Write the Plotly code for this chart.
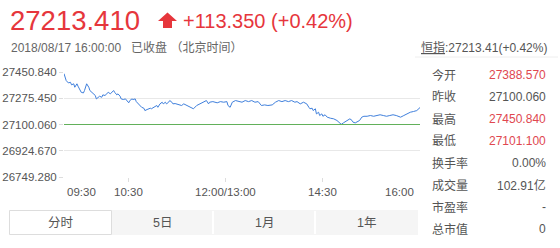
import plotly.graph_objects as go

# ---------------- data ----------------
minutes = [0, 1, 2, 4, 6, 7, 9, 10, 12, 13, 15, 16, 18, 19, 21, 23, 24, 26, 27, 29,
           30, 32, 33, 35, 36, 38, 40, 41, 43, 44, 46, 47, 49, 50, 52, 53, 55, 57, 58, 60,
           61, 63, 64, 66, 67, 69, 70, 72, 74, 75, 77, 78, 80, 81, 83, 84, 86, 87, 89, 91,
           92, 94, 95, 97, 98, 100, 101, 103, 105, 106, 109, 111, 114, 117, 120, 123, 126, 129, 132, 134,
           135, 138, 142, 145, 148, 151, 152, 154, 156, 159, 162, 165, 168, 171, 174, 177, 180, 183, 186, 189,
           193, 196, 199, 202, 205, 208, 211, 214, 216, 219, 222, 225, 227, 228, 230, 231, 233, 234, 236, 237,
           239, 240, 242, 244, 247, 250, 253, 256, 257, 259, 262, 265, 267, 268, 270, 271, 274, 276, 278, 281,
           284, 287, 290, 293, 296, 299, 302, 305, 308, 312, 315, 318, 321, 324, 327, 330]
prices = [27440, 27405, 27394, 27378, 27382, 27365, 27372, 27349, 27372, 27356, 27334, 27315, 27311, 27327, 27372, 27349, 27327, 27315, 27305, 27294,
          27271, 27282, 27289, 27282, 27298, 27294, 27305, 27315, 27305, 27315, 27327, 27315, 27298, 27305, 27289, 27271, 27267, 27271, 27260, 27245,
          27260, 27271, 27267, 27271, 27253, 27238, 27227, 27215, 27209, 27193, 27200, 27205, 27209, 27205, 27215, 27222, 27227, 27215, 27238, 27249,
          27238, 27249, 27238, 27249, 27260, 27249, 27238, 27240, 27236, 27231, 27227, 27238, 27227, 27215, 27205, 27227, 27238, 27245, 27260, 27238,
          27249, 27253, 27245, 27253, 27249, 27253, 27227, 27215, 27249, 27260, 27253, 27249, 27260, 27253, 27260, 27249, 27253, 27227, 27231, 27227,
          27231, 27249, 27260, 27253, 27260, 27253, 27260, 27249, 27253, 27238, 27249, 27238, 27215, 27205, 27209, 27193, 27205, 27171, 27182, 27160,
          27171, 27155, 27165, 27149, 27142, 27138, 27127, 27111, 27101.1, 27111, 27127, 27138, 27127, 27115, 27111, 27115, 27127, 27149, 27155, 27155,
          27160, 27155, 27160, 27165, 27160, 27155, 27160, 27165, 27160, 27149, 27160, 27171, 27182, 27187, 27193, 27213.41]

prev_close = 27100.060
y_ticks = [26749.280, 26924.670, 27100.060, 27275.450, 27450.840]
x_tick_vals = [0, 60, 150, 240, 330]
x_tick_labels = ["09:30", "10:30", "12:00/13:00", "14:30", "16:00"]

last_price = "27213.410"
change_text = "+113.350 (+0.42%)"
date_text = "2018/08/17 16:00:00   已收盘 （北京时间）"
index_text = "<u>恒指</u>:27213.41(+0.42%)"

panel_labels = ["今开", "昨收", "最高", "最低", "换手率", "成交量", "市盈率", "总市值"]
panel_values = ["27388.570", "27100.060", "27450.840", "27101.100", "0.00%", "102.91亿", "-", "0"]
panel_red = [True, False, True, True, False, False, False, False]

tabs = ["分时", "5日", "1月", "1年"]

# ---------------- layout helpers ----------------
W, H = 560, 248
L, R, T, B = 64, 420, 72, 177  # plot area pixels
FONT = "Arial, 'Liberation Sans', 'Noto Sans CJK SC', sans-serif"
RED = "#e6363c"
RED2 = "#e0474f"
GREY = "#555555"


def px(x):
    return (x - L) / (R - L)


def py(y):
    return (B - y) / (B - T)


fig = go.Figure()
fig.add_trace(go.Scatter(x=minutes, y=prices, mode="lines",
                         line=dict(color="#3f7fdc", width=1), hoverinfo="skip"))

fig.update_layout(
    width=W, height=H,
    margin=dict(l=L, r=W - R, t=T, b=H - B, autoexpand=False),
    paper_bgcolor="white", plot_bgcolor="white",
    showlegend=False,
    font=dict(family=FONT, color=GREY),
    xaxis=dict(range=[0, 330], tickvals=x_tick_vals[1:-1], showticklabels=False,
               ticks="outside", ticklen=4, tickcolor="#dddddd", showgrid=False,
               zeroline=False, showline=False, fixedrange=True, automargin=False),
    yaxis=dict(range=[y_ticks[0], y_ticks[-1]], tickvals=y_ticks,
               ticktext=[f"{v:.3f}" for v in y_ticks],
               ticks="outside", ticklen=4, tickcolor="#dddddd",
               tickfont=dict(size=11.5, color=GREY, family=FONT),
               showgrid=True, gridcolor="#e8e8e8", gridwidth=1, automargin=False,
               zeroline=False, showline=False, fixedrange=True),
)

ann = []
# x tick labels
for i, (v, t) in enumerate(zip(x_tick_vals, x_tick_labels)):
    anchor = "left" if i == 0 else ("right" if i == len(x_tick_vals) - 1 else "center")
    ann.append(dict(x=v, y=py(192), xref="x", yref="paper", text=t, showarrow=False,
                    xanchor=anchor, yanchor="middle", xshift=(1 if i == 0 else (-4 if anchor == "right" else 0)),
                    font=dict(size=11.5, color=GREY, family=FONT)))

# header
ann.append(dict(x=px(8), y=py(20), xref="paper", yref="paper", text=last_price, showarrow=False,
                xanchor="left", yanchor="middle", font=dict(size=27.5, color=RED, family=FONT)))
ann.append(dict(x=px(181), y=py(21), xref="paper", yref="paper", text=change_text, showarrow=False,
                xanchor="left", yanchor="middle", font=dict(size=20, color=RED, family=FONT)))
ann.append(dict(x=px(9), y=py(47), xref="paper", yref="paper", text=date_text, showarrow=False,
                xanchor="left", yanchor="middle", font=dict(size=12, color="#666666", family=FONT)))
ann.append(dict(x=px(549), y=py(48), xref="paper", yref="paper", text=index_text, showarrow=False,
                xanchor="right", yanchor="middle", font=dict(size=12, color=GREY, family=FONT)))

# right panel
for i, (lab, val, red) in enumerate(zip(panel_labels, panel_values, panel_red)):
    yy = 75 + i * 22.
    ann.append(dict(x=px(430), y=py(yy), xref="paper", yref="paper", text=lab, showarrow=False,
                    xanchor="left", yanchor="middle", font=dict(size=12, color=GREY, family=FONT)))
    ann.append(dict(x=px(548), y=py(yy), xref="paper", yref="paper", text=val, showarrow=False,
                    xanchor="right", yanchor="middle",
                    font=dict(size=12, color=RED2 if red else GREY, family=FONT)))

shapes = []
# previous close reference line
shapes.append(dict(type="line", xref="paper", yref="y", x0=0, x1=1, y0=prev_close, y1=prev_close,
                   line=dict(color="#62b05a", width=1)))
# arrow icon
pts = [(158, 21), (167.5, 12.5), (177, 21), (172, 21), (172, 28), (163, 28), (163, 21)]
path = "M " + " L ".join(f"{px(a):.5f},{py(b):.5f}" for a, b in pts) + " Z"
shapes.append(dict(type="path", xref="paper", yref="paper", path=path,
                   fillcolor=RED, line=dict(width=0)))
# separator line of right panel
shapes.append(dict(type="line", xref="paper", yref="paper", x0=px(415), x1=px(558),
                   y0=py(57), y1=py(57), line=dict(color="#eeeeee", width=1)))

# tabs
tab_edges = [9, 112, 213, 315, 418]
shapes.append(dict(type="rect", xref="paper", yref="paper", x0=px(112), x1=px(418),
                   y0=py(210), y1=py(235), fillcolor="#f5f5f5", line=dict(width=0), layer="below"))
for e in tab_edges[2:-1]:
    shapes.append(dict(type="line", xref="paper", yref="paper", x0=px(e), x1=px(e),
                       y0=py(211), y1=py(234), line=dict(color="#ffffff", width=2)))
shapes.append(dict(type="rect", xref="paper", yref="paper", x0=px(9.5), x1=px(111.5),
                   y0=py(210.5), y1=py(234.5), fillcolor="white", line=dict(color="#dddddd", width=1)))
for i, t in enumerate(tabs):
    cx = (tab_edges[i] + tab_edges[i + 1]) / 2
    ann.append(dict(x=px(cx), y=py(222.5), xref="paper", yref="paper", text=t, showarrow=False,
                    xanchor="center", yanchor="middle", font=dict(size=12.5, color=GREY, family=FONT)))

fig.update_layout(annotations=ann, shapes=shapes)
fig.write_html("out.html", config={"displayModeBar": False})
